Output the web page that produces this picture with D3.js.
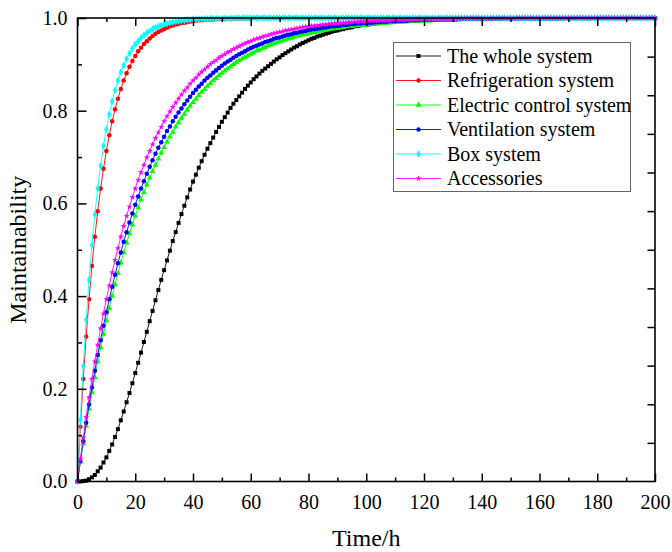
<!DOCTYPE html>
<html><head><meta charset="utf-8">
<script src="https://cdn.jsdelivr.net/npm/d3@7/dist/d3.min.js"></script>
<style>body{margin:0;background:#fff}svg{display:block}</style>
</head><body>
<svg id="chart" width="672" height="552"></svg>
<script>
// time axis: one reading per hour, 0..200 h
const hours = d3.range(0, 201, 1);

const seriesNames = ["The whole system","Refrigeration system","Electric control system","Ventilation system","Box system","Accessories"];
const seriesColors = ["#000000","#ff0000","#00ff00","#0000ff","#00ffff","#ff00ff"];

const wholeSystem = [
0,0,.001,.002,.005,.009,.014,.022,.030,.041,
.052,.066,.080,.096,.113,.132,.151,.171,.191,.212,
.234,.256,.278,.301,.323,.346,.368,.391,.413,.435,
.456,.477,.498,.519,.538,.558,.577,.595,.613,.630,
.647,.662,.677,.691,.705,.718,.730,.742,.754,.765,
.776,.786,.796,.806,.815,.823,.831,.839,.847,.854,
.861,.868,.874,.880,.886,.891,.896,.901,.906,.911,
.915,.920,.924,.928,.932,.936,.939,.943,.946,.949,
.952,.955,.957,.960,.962,.964,.966,.968,.970,.972,
.973,.975,.976,.978,.979,.980,.982,.983,.984,.985,
.986,.986,.987,.988,.989,.989,.990,.991,.991,.992,
.992,.993,.993,.994,.994,.994,.995,.995,.995,.996,
.996,.996,.996,.997,.997,.997,.997,.997,.998,.998,
.998,.998,.998,.998,.998,.998,.999,.999,.999,.999,
.999,.999,.999,.999,.999,.999,.999,.999,.999,.999,
.999,.999,1,1,1,1,1,1,1,1,
1,1,1,1,1,1,1,1,1,1,
1,1,1,1,1,1,1,1,1,1,
1,1,1,1,1,1,1,1,1,1,
1,1,1,1,1,1,1,1,1,1,
1];

const refrigeration = [
0,.118,.221,.313,.393,.465,.528,.583,.632,.675,
.713,.747,.777,.803,.826,.847,.865,.881,.895,.907,
.918,.928,.936,.944,.950,.956,.961,.966,.970,.973,
.976,.979,.982,.984,.986,.987,.989,.990,.991,.992,
.993,.994,.995,.995,.996,.996,.997,.997,.998,.998,
.998,.998,.999,.999,.999,.999,.999,.999,.999,.999,
.999,1,1,1,1,1,1,1,1,1,
1,1,1,1,1,1,1,1,1,1,
1,1,1,1,1,1,1,1,1,1,
1,1,1,1,1,1,1,1,1,1,
1,1,1,1,1,1,1,1,1,1,
1,1,1,1,1,1,1,1,1,1,
1,1,1,1,1,1,1,1,1,1,
1,1,1,1,1,1,1,1,1,1,
1,1,1,1,1,1,1,1,1,1,
1,1,1,1,1,1,1,1,1,1,
1,1,1,1,1,1,1,1,1,1,
1,1,1,1,1,1,1,1,1,1,
1,1,1,1,1,1,1,1,1,1,
1,1,1,1,1,1,1,1,1,1,
1];

const electricControl = [
0,.042,.082,.120,.157,.192,.225,.258,.289,.318,
.347,.374,.400,.425,.449,.472,.494,.515,.535,.554,
.573,.591,.608,.624,.640,.655,.669,.683,.696,.709,
.721,.733,.744,.754,.765,.774,.784,.793,.802,.810,
.818,.825,.833,.840,.846,.853,.859,.865,.870,.876,
.881,.886,.891,.895,.900,.904,.908,.912,.915,.919,
.922,.925,.929,.931,.934,.937,.940,.942,.945,.947,
.949,.951,.953,.955,.957,.959,.961,.962,.964,.965,
.967,.968,.969,.971,.972,.973,.974,.975,.976,.977,
.978,.979,.980,.981,.982,.982,.983,.984,.985,.985,
.986,.986,.987,.988,.988,.989,.989,.989,.990,.990,
.991,.991,.991,.992,.992,.993,.993,.993,.993,.994,
.994,.994,.994,.995,.995,.995,.995,.996,.996,.996,
.996,.996,.996,.997,.997,.997,.997,.997,.997,.997,
.997,.998,.998,.998,.998,.998,.998,.998,.998,.998,
.998,.998,.998,.999,.999,.999,.999,.999,.999,.999,
.999,.999,.999,.999,.999,.999,.999,.999,.999,.999,
.999,.999,.999,.999,.999,.999,.999,.999,.999,1,
1,1,1,1,1,1,1,1,1,1,
1,1,1,1,1,1,1,1,1,1,
1];

const ventilation = [
0,.044,.087,.127,.166,.203,.239,.273,.305,.336,
.365,.393,.420,.446,.471,.494,.517,.538,.559,.578,
.597,.615,.632,.648,.664,.679,.693,.707,.720,.732,
.744,.756,.766,.777,.787,.796,.805,.814,.822,.830,
.838,.845,.852,.858,.865,.871,.876,.882,.887,.892,
.897,.902,.906,.910,.914,.918,.922,.925,.928,.932,
.935,.938,.940,.943,.945,.948,.950,.952,.955,.957,
.958,.960,.962,.964,.965,.967,.968,.970,.971,.972,
.974,.975,.976,.977,.978,.979,.980,.981,.982,.982,
.983,.984,.985,.985,.986,.987,.987,.988,.988,.989,
.989,.990,.990,.991,.991,.992,.992,.992,.993,.993,
.993,.994,.994,.994,.994,.995,.995,.995,.995,.996,
.996,.996,.996,.996,.996,.997,.997,.997,.997,.997,
.997,.997,.998,.998,.998,.998,.998,.998,.998,.998,
.998,.998,.998,.998,.999,.999,.999,.999,.999,.999,
.999,.999,.999,.999,.999,.999,.999,.999,.999,.999,
.999,.999,.999,.999,.999,.999,.999,.999,1,1,
1,1,1,1,1,1,1,1,1,1,
1,1,1,1,1,1,1,1,1,1,
1,1,1,1,1,1,1,1,1,1,
1];

const boxSystem = [
0,.133,.249,.349,.435,.510,.576,.632,.681,.724,
.760,.792,.820,.844,.865,.883,.898,.912,.924,.934,
.943,.950,.957,.963,.968,.972,.976,.979,.982,.984,
.986,.988,.990,.991,.992,.993,.994,.995,.996,.996,
.997,.997,.998,.998,.998,.998,.999,.999,.999,.999,
.999,.999,.999,.999,1,1,1,1,1,1,
1,1,1,1,1,1,1,1,1,1,
1,1,1,1,1,1,1,1,1,1,
1,1,1,1,1,1,1,1,1,1,
1,1,1,1,1,1,1,1,1,1,
1,1,1,1,1,1,1,1,1,1,
1,1,1,1,1,1,1,1,1,1,
1,1,1,1,1,1,1,1,1,1,
1,1,1,1,1,1,1,1,1,1,
1,1,1,1,1,1,1,1,1,1,
1,1,1,1,1,1,1,1,1,1,
1,1,1,1,1,1,1,1,1,1,
1,1,1,1,1,1,1,1,1,1,
1,1,1,1,1,1,1,1,1,1,
1,1,1,1,1,1,1,1,1,1,
1];

const accessories = [
0,.049,.095,.139,.181,.221,.259,.295,.330,.362,
.393,.423,.451,.478,.503,.528,.551,.573,.593,.613,
.632,.650,.667,.683,.699,.713,.727,.741,.753,.765,
.777,.788,.798,.808,.817,.826,.835,.843,.850,.858,
.865,.871,.878,.884,.889,.895,.900,.905,.909,.914,
.918,.922,.926,.929,.933,.936,.939,.942,.945,.948,
.950,.953,.955,.957,.959,.961,.963,.965,.967,.968,
.970,.971,.973,.974,.975,.976,.978,.979,.980,.981,
.982,.983,.983,.984,.985,.986,.986,.987,.988,.988,
.989,.989,.990,.990,.991,.991,.992,.992,.993,.993,
.993,.994,.994,.994,.994,.995,.995,.995,.995,.996,
.996,.996,.996,.996,.997,.997,.997,.997,.997,.997,
.998,.998,.998,.998,.998,.998,.998,.998,.998,.998,
.998,.999,.999,.999,.999,.999,.999,.999,.999,.999,
.999,.999,.999,.999,.999,.999,.999,.999,.999,.999,
.999,.999,1,1,1,1,1,1,1,1,
1,1,1,1,1,1,1,1,1,1,
1,1,1,1,1,1,1,1,1,1,
1,1,1,1,1,1,1,1,1,1,
1,1,1,1,1,1,1,1,1,1,
1];

const xMajorTicks = [0,20,40,60,80,100,120,140,160,180,200];
const xMinorTicks = [10,30,50,70,90,110,130,150,170,190];
const yMajorTicks = [0,0.2,0.4,0.6,0.8,1.0];
const yMinorTicks = [0.1,0.3,0.5,0.7,0.9];
// the right-hand frame carries twelve equal divisions
const rightTicks = [1/12,2/12,3/12,4/12,5/12,6/12,7/12,8/12,9/12,10/12,11/12];
const xTitle = "Time/h";
const yTitle = "Maintainability";

const seriesValues = [wholeSystem, refrigeration, electricControl, ventilation, boxSystem, accessories];
const seriesSymbols = [d3.symbolSquare, d3.symbolCircle, d3.symbolTriangle, d3.symbolCircle, d3.symbolDiamond, d3.symbolStar];
const symbolSizes = [16, 16, 15, 16, 17, 12];

const svg = d3.select("#chart");
const font = "'Liberation Serif','Times New Roman',serif";
const X0 = 77.5, X1 = 655, Y0 = 481.5, Y1 = 18;
const x = d3.scaleLinear().domain([0, 200]).range([X0, X1]);
const y = d3.scaleLinear().domain([0, 1]).range([Y0, Y1]);

// series
const line = d3.line().x((d, i) => x(hours[i])).y(d => y(d));
seriesValues.forEach((vals, s) => {
  const g = svg.append("g");
  g.append("path").datum(vals).attr("d", line)
    .attr("fill", "none").attr("stroke", seriesColors[s]).attr("stroke-width", 0.9);
  const sym = d3.symbol().type(seriesSymbols[s]).size(symbolSizes[s]);
  g.selectAll("path.m").data(vals).join("path").attr("class", "m")
    .attr("d", sym)
    .attr("transform", (d, i) => `translate(${x(hours[i])},${y(d)})`)
    .attr("fill", seriesColors[s]);
});

// axes
function styleAxis(g) {
  g.select(".domain").remove();
  g.selectAll("line").attr("stroke", "#000").attr("stroke-width", 1.5);
  g.selectAll("text").attr("font-family", font).attr("font-size", 20).attr("fill", "#000");
}
svg.append("g").attr("transform", `translate(0,${Y0})`)
  .call(d3.axisBottom(x).tickValues(xMajorTicks).tickSize(-8).tickPadding(13).tickFormat(d3.format("d"))).call(styleAxis);
svg.append("g").attr("transform", `translate(0,${Y0})`)
  .call(d3.axisBottom(x).tickValues(xMinorTicks).tickSize(-4).tickFormat("")).call(styleAxis);
svg.append("g").attr("transform", `translate(0,${Y1})`)
  .call(d3.axisTop(x).tickValues(xMajorTicks).tickSize(-8).tickFormat("")).call(styleAxis);
svg.append("g").attr("transform", `translate(0,${Y1})`)
  .call(d3.axisTop(x).tickValues(xMinorTicks).tickSize(-4).tickFormat("")).call(styleAxis);
svg.append("g").attr("transform", `translate(${X0},0)`)
  .call(d3.axisLeft(y).tickValues(yMajorTicks).tickSize(-9).tickPadding(10).tickFormat(d3.format(".1f"))).call(styleAxis);
svg.append("g").attr("transform", `translate(${X0},0)`)
  .call(d3.axisLeft(y).tickValues(yMinorTicks).tickSize(-4.5).tickFormat("")).call(styleAxis);
svg.append("g").attr("transform", `translate(${X1},0)`)
  .call(d3.axisRight(y).tickValues(rightTicks).tickSize(-7.5).tickFormat("")).call(styleAxis);

svg.append("rect").attr("x", X0).attr("y", Y1).attr("width", X1 - X0).attr("height", Y0 - Y1)
  .attr("fill", "none").attr("stroke", "#000").attr("stroke-width", 1.6);

// titles
svg.append("text").attr("x", (X0 + X1) / 2).attr("y", 546).attr("text-anchor", "middle")
  .attr("font-family", font).attr("font-size", 24).text(xTitle);
svg.append("text").attr("transform", `translate(26,${(Y0 + Y1) / 2}) rotate(-90)`).attr("text-anchor", "middle")
  .attr("font-family", font).attr("font-size", 24).text(yTitle);

// legend
const lg = svg.append("g");
lg.append("rect").attr("x", 393.5).attr("y", 42.5).attr("width", 237).attr("height", 149)
  .attr("fill", "#fff").attr("stroke", "#666").attr("stroke-width", 1);
seriesNames.forEach((name, s) => {
  const yy = 56 + s * 24.5;
  lg.append("line").attr("x1", 396).attr("x2", 441).attr("y1", yy).attr("y2", yy)
    .attr("stroke", seriesColors[s]).attr("stroke-width", 0.9);
  lg.append("path").attr("d", d3.symbol().type(seriesSymbols[s]).size(symbolSizes[s])())
    .attr("transform", `translate(418.5,${yy})`).attr("fill", seriesColors[s]);
  lg.append("text").attr("x", 447).attr("y", yy + 6.5).attr("font-family", font).attr("font-size", 20)
    .text(name);
});
</script>
</body></html>
